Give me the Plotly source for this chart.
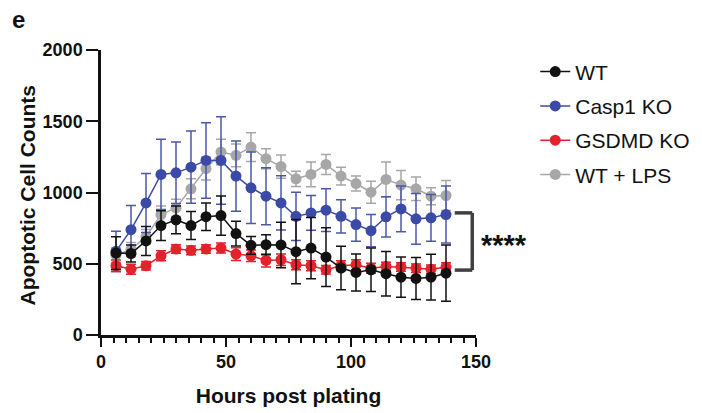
import plotly.graph_objects as go

hours = [6, 12, 18, 24, 30, 36, 42, 48, 54, 60, 66, 72, 78, 84, 90, 96, 102, 108, 114, 120, 126, 132, 138]

wt = [575, 572, 660, 768, 808, 768, 830, 838, 712, 629, 634, 632, 585, 610, 547, 470, 439, 458, 430, 406, 397, 406, 434]
wt_err = [115, 60, 102, 104, 98, 98, 96, 138, 87, 63, 70, 160, 225, 215, 206, 152, 130, 152, 156, 141, 147, 160, 198]

casp1 = [587, 739, 927, 1127, 1138, 1178, 1225, 1225, 1115, 1033, 974, 927, 833, 857, 876, 833, 775, 732, 829, 885, 815, 822, 845]
casp1_err = [141, 169, 207, 246, 216, 254, 265, 307, 246, 251, 200, 190, 169, 122, 150, 117, 117, 113, 141, 160, 178, 164, 200]

gsdmd = [486, 462, 486, 556, 603, 594, 603, 610, 568, 556, 523, 528, 493, 486, 458, 486, 493, 469, 481, 477, 469, 462, 477]
gsdmd_err = [40, 35, 30, 35, 30, 30, 30, 35, 45, 40, 45, 40, 35, 35, 30, 35, 35, 35, 30, 30, 30, 30, 30]

lps = [560, 600, 690, 845, 892, 1026, 1167, 1284, 1261, 1319, 1237, 1182, 1096, 1127, 1197, 1115, 1063, 1002, 1092, 1052, 1026, 974, 979]
lps_err = [50, 50, 50, 60, 60, 70, 80, 89, 80, 101, 70, 82, 54, 87, 70, 63, 52, 77, 122, 103, 82, 60, 106]

series_names = ["WT", "Casp1 KO", "GSDMD KO", "WT + LPS"]
y_ticks = [0, 500, 1000, 1500, 2000]
x_ticks = [0, 50, 100, 150]

colors = {"WT": "#111111", "Casp1 KO": "#3b4aa6", "GSDMD KO": "#e3222b", "WT + LPS": "#a7a7a9"}
err_colors = {"WT": "#111111", "Casp1 KO": "#4a58a8", "GSDMD KO": "#e3222b", "WT + LPS": "#a7a7a9"}
data = {"WT": (wt, wt_err), "Casp1 KO": (casp1, casp1_err), "GSDMD KO": (gsdmd, gsdmd_err), "WT + LPS": (lps, lps_err)}
draw_order = ["WT + LPS", "Casp1 KO", "GSDMD KO", "WT"]

FONT = "Liberation Sans, Arial"

fig = go.Figure()
for name in draw_order:
    vals, errs = data[name]
    fig.add_trace(go.Scatter(
        x=hours, y=vals, name=name, mode="lines+markers",
        line=dict(color=colors[name], width=1.5),
        marker=dict(color=colors[name], size=11),
        error_y=dict(type="data", array=errs, visible=True, color=err_colors[name], thickness=1.5, width=5),
        legendrank=series_names.index(name) + 1,
        legendgroup=name,
        cliponaxis=False,
    ))

# significance bracket between Casp1 KO and WT/GSDMD KO at last time point
top_v = casp1[-1] + 12
bot_v = (wt[-1] + gsdmd[-1]) / 2
bx0, bx1 = 141.5, 148.5
for (xa, ya, xb, yb) in [(bx0, top_v, bx1, top_v), (bx1, top_v, bx1, bot_v), (bx0, bot_v, bx1, bot_v)]:
    fig.add_shape(type="line", x0=xa, y0=ya, x1=xb, y1=yb, xref="x", yref="y",
                  line=dict(color="#404040", width=3.5))
fig.add_annotation(x=(bx1 + 2.5) / 150, y=((top_v + bot_v) / 2 - 25) / 2000, xref="paper", yref="paper",
                   text="<b>****</b>", showarrow=False, xanchor="left", yanchor="middle",
                   font=dict(family=FONT, size=29, color="#111111"))

fig.add_annotation(xref="paper", yref="paper", x=-0.242, y=1.16, xanchor="left", yanchor="top",
                   text="<b>e</b>", showarrow=False,
                   font=dict(family=FONT, size=24, color="#111111"))

# y-axis title placed as rotated annotation
fig.add_annotation(xref="paper", yref="paper", x=-0.197, y=0.49, xanchor="center", yanchor="middle",
                   text="<b>Apoptotic Cell Counts</b>", textangle=-90, showarrow=False,
                   font=dict(family=FONT, size=21, color="#111111"))

axis_font = dict(family=FONT, size=18, color="#111111")
fig.update_layout(
    width=702, height=413,
    margin=dict(l=101, r=226, t=50, b=78, autoexpand=False),
    paper_bgcolor="white", plot_bgcolor="white",
    font=dict(family=FONT, color="#111111"),
    legend=dict(x=1.158, y=0.995, xanchor="left", yanchor="top", tracegroupgap=4,
                font=dict(family=FONT, size=21, color="#111111"),
                bgcolor="rgba(0,0,0,0)"),
    xaxis=dict(range=[0, 150], tickvals=x_ticks, ticktext=[f"<b>{v}</b>" for v in x_ticks],
               showgrid=False, zeroline=False, showline=True, linecolor="#111111", linewidth=2.5,
               ticks="outside", ticklen=9, tickwidth=2, tickcolor="#111111",
               minor=dict(dtick=5, ticks="outside", ticklen=5, tickwidth=1.5, tickcolor="#111111", showgrid=False),
               tickfont=axis_font, automargin=False,
               title=dict(text="<b>Hours post plating</b>", font=dict(family=FONT, size=21, color="#111111"), standoff=17)),
    yaxis=dict(range=[0, 2000], tickvals=y_ticks, ticktext=[f"<b>{v}</b>" for v in y_ticks],
               showgrid=False, zeroline=False, showline=True, linecolor="#111111", linewidth=2.5,
               ticks="outside", ticklen=12, tickwidth=2, tickcolor="#111111",
               tickfont=axis_font, automargin=False),
)

fig.write_html("out.html", post_script="document.body.style.margin='0px';",
               config={"displayModeBar": False})
